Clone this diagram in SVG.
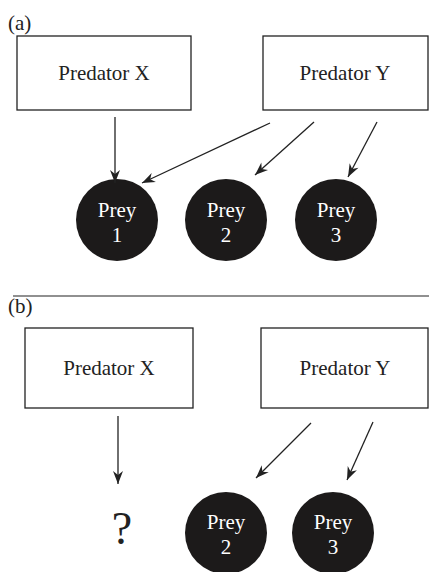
<svg xmlns="http://www.w3.org/2000/svg" width="429" height="572" viewBox="0 0 429 572">
<style>
.box{fill:#fff;stroke:#222;stroke-width:1.3}
.lbl{font-family:"Liberation Serif",serif;font-size:21px;fill:#222;text-anchor:middle}
.plbl{font-family:"Liberation Serif",serif;font-size:21px;fill:#222}
.prey{fill:#1c1a1a}
.pt{font-family:"Liberation Serif",serif;font-size:21px;fill:#fff;text-anchor:middle}
.edge{stroke:#222;stroke-width:1.3;fill:none;marker-end:url(#ah)}
</style>
<defs>
<marker id="ah" viewBox="-14 -6 15 12" refX="0" refY="0" markerWidth="15" markerHeight="12" markerUnits="userSpaceOnUse" orient="auto">
<path d="M0,0 L-13,-5 L-9,0 L-13,5 Z" fill="#222"/>
</marker>
</defs>
<text class="plbl" x="8" y="30">(a)</text>
<line x1="13" y1="296" x2="429" y2="296" stroke="#222" stroke-width="1.2"/>
<text class="plbl" x="8" y="313">(b)</text>
<g id="a-predX"><rect class="box" x="17" y="36" width="174" height="74"/><text class="lbl" x="104" y="80">Predator X</text></g>
<g id="a-predY"><rect class="box" x="263" y="36" width="165" height="74"/><text class="lbl" x="345" y="80">Predator Y</text></g>
<g id="a-prey1"><circle class="prey" cx="117" cy="220" r="41"/><text class="pt" x="117" y="217">Prey</text><text class="pt" x="117" y="242">1</text></g>
<g id="a-prey2"><circle class="prey" cx="226" cy="220" r="41"/><text class="pt" x="226" y="217">Prey</text><text class="pt" x="226" y="242">2</text></g>
<g id="a-prey3"><circle class="prey" cx="336" cy="220" r="41"/><text class="pt" x="336" y="217">Prey</text><text class="pt" x="336" y="242">3</text></g>
<g id="b-predX"><rect class="box" x="25" y="328" width="168" height="80"/><text class="lbl" x="109" y="375">Predator X</text></g>
<g id="b-predY"><rect class="box" x="261" y="328" width="167" height="80"/><text class="lbl" x="345" y="375">Predator Y</text></g>
<g id="b-q"><text x="122" y="544" style="font-family:'Liberation Serif',serif;font-size:46px;fill:#222;text-anchor:middle">?</text></g>
<g id="b-prey2"><circle class="prey" cx="226" cy="533" r="41"/><text class="pt" x="226" y="529">Prey</text><text class="pt" x="226" y="554">2</text></g>
<g id="b-prey3"><circle class="prey" cx="333" cy="533" r="41"/><text class="pt" x="333" y="529">Prey</text><text class="pt" x="333" y="554">3</text></g>
<g id="connectors">
<line class="edge" x1="115" y1="117" x2="115" y2="183"/>
<line class="edge" x1="270" y1="123" x2="142" y2="183"/>
<line class="edge" x1="314" y1="122" x2="255" y2="175"/>
<line class="edge" x1="377" y1="122" x2="348" y2="177"/>
<line class="edge" x1="118" y1="416" x2="118" y2="484"/>
<line class="edge" x1="311" y1="423" x2="256" y2="478"/>
<line class="edge" x1="373" y1="422" x2="347" y2="480"/>
</g>
</svg>
